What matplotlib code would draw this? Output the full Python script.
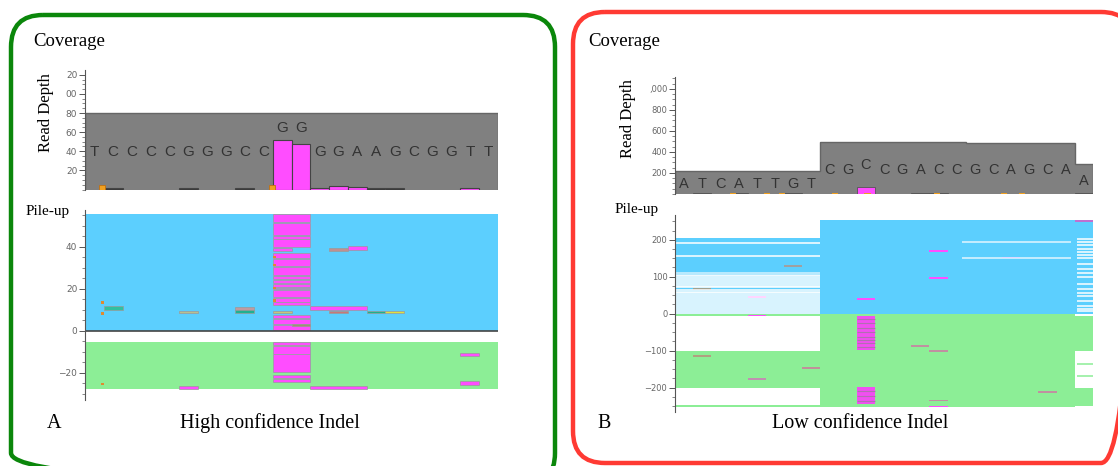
import matplotlib
matplotlib.use("Agg")
import matplotlib.pyplot as plt
from matplotlib.patches import FancyBboxPatch

# ---- dane: panel A (high confidence) ----
A_bases = list("TCCCCGGGCCGGGGAAGCGGTT")
A_base_y = [39, 39, 39, 39, 39, 39, 39, 39, 39, 39, 64, 64,
            39, 39, 39, 39, 39, 39, 39, 39, 39, 39]
A_depth = [80, 80, 80, 80, 80, 80, 80, 80, 80, 80, 80,
           80, 80, 80, 80, 80, 80, 80, 80, 80, 80, 80]
A_yticks = [20, 40, 60, 80, 100, 120]
A_ylabels = ["20", "40", "60", "80", "00", "20"]   # ucięte etykiety jak na zrzucie
A_cov_pos = [1, 5, 8, 10, 11, 12, 13, 14, 15, 16, 20]
A_cov_h = [1.5, 1.5, 1.5, 52, 48, 2, 4, 3, 1.2, 1.2, 2]
A_cov_col = ["#3a3a3a", "#3a3a3a", "#3a3a3a", "#ff4dff", "#ff4dff", "#ff4dff",
             "#ff4dff", "#ff4dff", "#3a3a3a", "#3a3a3a", "#ff4dff"]
A_err_x = [0.9, 9.95]
A_err_h = [5, 5]

# pile-up A: tło (x0, x1, dol, gora)
A_blue = [0, 22, 0, 55.7]
A_green = [0, 22, -27.6, -5.3]
# odczyty w kolumnie indela (pozycje 10-12)
A_pink_lo = [0.2, 3.2, 6.1, 12.1, 13.9, 16.2, 19.7, 20.8, 22.9, 24.6, 26.4,
             30.8, 34.8, 40.0, 44.0, 45.6, 51.9,
             -19.8, -11.0, -7.0, -24.6, -22.7]
A_pink_hi = [2.6, 5.7, 7.4, 13.5, 15.8, 19.3, 20.4, 22.5, 24.2, 26.0, 30.4,
             34.4, 36.9, 43.6, 45.2, 51.5, 55.7,
             -11.2, -7.2, -5.3, -22.9, -21.3]
# pozostale krotkie odczyty
A_read_x0 = [10, 10, 11, 12, 13, 15, 16, 13, 14, 1, 5, 8, 8, 5, 12, 20, 20]
A_read_x1 = [11, 11, 12, 15, 14, 16, 17, 14, 15, 2, 6, 9, 9, 6, 15, 21, 21]
A_read_lo = [38.0, 8.4, 2.4, 10.1, 8.3, 8.3, 8.3, 38.0, 38.7, 10.1, 8.5, 10.1,
             8.4, -27.6, -27.6, -12.0, -25.8]
A_read_hi = [39.5, 9.4, 3.3, 11.9, 9.6, 9.6, 9.6, 39.4, 40.6, 11.7, 9.5, 11.4,
             10.0, -26.3, -26.3, -10.7, -24.0]
A_read_col = ["#ff4dff", "#c8c878", "#a09070", "#ff4dff", "#c87878", "#20b08a",
              "#e0e040", "#c09090", "#ff4dff", "#30c0a0", "#b8c090", "#c09aa0",
              "#20b090", "#ff4dff", "#ff4dff", "#ff4dff", "#ff4dff"]
A_orange_x = [0.85, 0.85, 10.0, 10.0, 10.0, 10.0, 0.85]
A_orange_y = [13.0, 7.7, 34.7, 30.8, 19.8, 13.8, -25.9]

# ---- dane: panel B (low confidence) ----
B_bases = list("ATCATTGTCGCCGACCGCAGCAA")
B_base_y = [95, 95, 95, 95, 95, 95, 95, 95, 228, 228, 276, 228, 228, 228, 228,
            228, 228, 228, 228, 228, 228, 228, 124]
B_depth = [215, 215, 215, 215, 215, 215, 215, 215, 495, 495, 495, 495, 495,
           495, 495, 495, 490, 490, 490, 490, 490, 490, 285]
B_yticks = [200, 400, 600, 800, 1000]
B_ylabels = ["200", "400", "600", "800", ",000"]
B_cov_pos = [1, 3, 6, 10, 13, 14, 22]
B_cov_h = [6, 6, 6, 65, 6, 6, 6]
B_cov_col = ["#5a5a5a", "#5a5a5a", "#5a5a5a", "#ff4dff", "#5a5a5a", "#5a5a5a",
             "#5a5a5a"]
B_err_x = [3.2, 5.05, 5.9, 8.8, 10.6, 14.4, 18.1, 19.1]

B_blue_x0 = [0, 8, 22]
B_blue_x1 = [8, 22, 23]
B_blue_top = [206, 253, 250]
B_green_x0 = [0, 0, 0, 8, 22, 22]
B_green_x1 = [8, 8, 8, 22, 23, 23]
B_green_lo = [-7, -200, -252, -252, -100, -250]
B_green_hi = [0, -100, -248, 0, -5, -200]
B_white_left = [3, 8, 13, 18, 23, 29, 34, 39, 44, 50, 55, 60, 65, 71, 76, 81,
                86, 91, 96, 101, 156, 192]
B_white_mid = [151, 195]
B_white_right = [6, 14, 22, 35, 48, 55, 68, 80, 98, 110, 122, 135, 150, 160,
                 168, 176, 185, 195, 203]
B_green_lines_right = [-137, -168]
B_pink_lo = [-98, -244]
B_pink_hi = [-6, -199]
B_pink_stripes = [-15, -25, -38, -50, -62, -70, -80, -90, -210, -222, -235]
B_read_x0 = [1, 1, 4, 4, 4, 6, 7, 10, 14, 14, 13, 14, 14, 14, 18, 20, 22]
B_read_y = [66, -114, 46, -5, -177, 128, -146, 40, 170, 97, -87, -101, -235,
            -251, 152, -211, 251]
B_read_col = ["#a0a090", "#b0a080", "#ff4dff", "#ff4dff", "#c090b0", "#a0a0a0",
              "#c0909a", "#ff4dff", "#ff4dff", "#ff4dff", "#c090a0", "#c090a0",
              "#c090a0", "#ff4dff", "#ff4dff", "#c090a0", "#c070d0"]

GRAY = "#808080"
PINK = "#ff4dff"
BLUE = "#5ccffe"
GREEN = "#8cee96"
SERIF = "Liberation Serif"
SANS = "Liberation Sans"

W, H = 1118, 466
fig = plt.figure(figsize=(W / 100, H / 100), dpi=100)


def px_axes(x0, y0, x1, y1):
    ax = fig.add_axes([x0 / W, 1 - y1 / H, (x1 - x0) / W, (y1 - y0) / H])
    ax.set_facecolor("none")
    for s in ["top", "right", "bottom"]:
        ax.spines[s].set_visible(False)
    ax.spines["left"].set_color("#555555")
    ax.spines["left"].set_linewidth(0.8)
    ax.set_xticks([])
    ax.tick_params(axis="y", colors="#555555", labelcolor="#666666",
                   labelsize=6.5, length=4, width=0.7, pad=1.5)
    ax.tick_params(axis="y", which="minor", length=2, width=0.5, colors="#555555")
    return ax


# tlo z ramkami
bg = fig.add_axes([0, 0, 1, 1])
bg.set_xlim(0, W)
bg.set_ylim(H, 0)
bg.axis("off")
bg.add_patch(FancyBboxPatch((11, 15), 544, 470, boxstyle="round,pad=0,rounding_size=32",
                            fill=False, edgecolor="#0b870b", lw=3.2))
bg.add_patch(FancyBboxPatch((573, 12), 560, 451, boxstyle="round,pad=0,rounding_size=32",
                            fill=False, edgecolor="#ff3a33", lw=3.2))
for x0 in [33, 588]:
    bg.text(x0, 42, "Coverage", fontsize=13.5, family=SERIF, ha="left", va="center")
bg.text(46, 113, "Read Depth", fontsize=12, family=SERIF, rotation=90, ha="center", va="center")
bg.text(628, 119, "Read Depth", fontsize=12, family=SERIF, rotation=90, ha="center", va="center")
bg.text(26, 211, "Pile-up", fontsize=11, family=SERIF, ha="left", va="center")
bg.text(615, 210, "Pile-up", fontsize=11, family=SERIF, ha="left", va="center")
bg.text(47, 423, "A", fontsize=14.5, family=SERIF, ha="left", va="center")
bg.text(270, 423, "High confidence Indel", fontsize=14.5, family=SERIF, ha="center", va="center")
bg.text(597, 423, "B", fontsize=14.5, family=SERIF, ha="left", va="center")
bg.text(860, 423, "Low confidence Indel", fontsize=14.5, family=SERIF, ha="center", va="center")

# ---- A: coverage ----
ax = px_axes(85, 70, 498, 189.5)
edges = list(range(len(A_depth) + 1))
ax.stairs(A_depth, edges, fill=True, color=GRAY)
ax.stairs(A_depth, edges, color="#666666", lw=1)
ax.bar([p + 0.5 for p in A_cov_pos], A_cov_h, width=1, color=A_cov_col,
       edgecolor="#444444", lw=0.8)
ax.bar(A_err_x, A_err_h, width=0.35, color="#f0a020", edgecolor="#c07010", lw=0.6)
for i, ch in enumerate(A_bases):
    ax.text(i + 0.5, A_base_y[i], ch, ha="center", va="center", fontsize=11,
            family=SANS, color="#333333")
ax.set_xlim(0, 22)
ax.set_ylim(0, 125)
ax.set_yticks(A_yticks)
ax.set_yticklabels(A_ylabels)
ax.set_yticks(range(0, 125, 5), minor=True)

# ---- A: pile-up ----
ax = px_axes(85, 210, 498, 400)
ax.bar(A_blue[0], A_blue[3] - A_blue[2], width=A_blue[1] - A_blue[0], bottom=A_blue[2],
       align="edge", color=BLUE, lw=0)
ax.bar(A_green[0], A_green[3] - A_green[2], width=A_green[1] - A_green[0],
       bottom=A_green[2], align="edge", color=GREEN, lw=0)
ax.bar([10] * len(A_pink_lo), [h - l for l, h in zip(A_pink_lo, A_pink_hi)], width=2,
       bottom=A_pink_lo, align="edge", color=PINK, edgecolor="#a09aa8", lw=0.6)
ax.bar(A_read_x0, [h - l for l, h in zip(A_read_lo, A_read_hi)],
       width=[b - a for a, b in zip(A_read_x0, A_read_x1)], bottom=A_read_lo,
       align="edge", color=A_read_col, edgecolor="#9a9a9a", lw=0.5)
ax.bar(A_orange_x, [1.2] * len(A_orange_x), width=0.18, bottom=A_orange_y,
       align="edge", color="#e08a30", lw=0)
ax.hlines(0, 0, 22, color="#444444", lw=1.2)
ax.set_xlim(0, 22)
ax.set_ylim(-33, 57.6)
ax.set_yticks([-20, 0, 20, 40])
ax.set_yticks(range(-30, 56, 5), minor=True)

# ---- B: coverage ----
ax = px_axes(675, 77, 1093, 194)
edges = list(range(len(B_depth) + 1))
ax.stairs(B_depth, edges, fill=True, color=GRAY)
ax.stairs(B_depth, edges, color="#666666", lw=1)
ax.bar([p + 0.5 for p in B_cov_pos], B_cov_h, width=1, color=B_cov_col,
       edgecolor="#555555", lw=0.6)
ax.bar(B_err_x, [14] * len(B_err_x), width=0.35, color="#f0a020", lw=0)
for i, ch in enumerate(B_bases):
    ax.text(i + 0.5, B_base_y[i], ch, ha="center", va="center", fontsize=10.5,
            family=SANS, color="#333333")
ax.set_xlim(0, 23)
ax.set_ylim(0, 1114)
ax.set_yticks(B_yticks)
ax.set_yticklabels(B_ylabels)
ax.set_yticks(range(0, 1101, 50), minor=True)
ax.tick_params(axis="y", labelsize=6)

# ---- B: pile-up ----
ax = px_axes(675, 215, 1093, 412)
ax.bar(B_blue_x0, B_blue_top, width=[b - a for a, b in zip(B_blue_x0, B_blue_x1)],
       align="edge", color=BLUE, lw=0)
ax.bar(B_green_x0, [h - l for l, h in zip(B_green_lo, B_green_hi)],
       width=[b - a for a, b in zip(B_green_x0, B_green_x1)], bottom=B_green_lo,
       align="edge", color=GREEN, lw=0)
ax.bar(0, 12, width=8, bottom=101, align="edge", color="#b8e9fd", lw=0)
ax.hlines(B_white_left, 0, 8, color="white", lw=1.1)
ax.hlines(B_white_mid, 15.8, 21.8, color="#d8f3ff", lw=1.2)
ax.hlines(B_white_right, 22.1, 23, color="white", lw=1.1)
ax.hlines(B_green_lines_right, 22.1, 23, color=GREEN, lw=1.1)
ax.bar([10, 10], [h - l for l, h in zip(B_pink_lo, B_pink_hi)], width=1,
       bottom=B_pink_lo, align="edge", color="#f050f0", lw=0)
ax.hlines(B_pink_stripes, 10, 11, color="#b070b0", lw=0.8)
ax.bar(B_read_x0, [5] * len(B_read_x0), width=1, bottom=[y - 2.5 for y in B_read_y],
       align="edge", color=B_read_col, lw=0)
ax.set_xlim(0, 23)
ax.set_ylim(-266, 267)
ax.set_yticks([-200, -100, 0, 100, 200])
ax.set_yticks(range(-250, 251, 25), minor=True)
ax.tick_params(axis="y", labelsize=6)

fig.savefig("out.png", dpi=100)
